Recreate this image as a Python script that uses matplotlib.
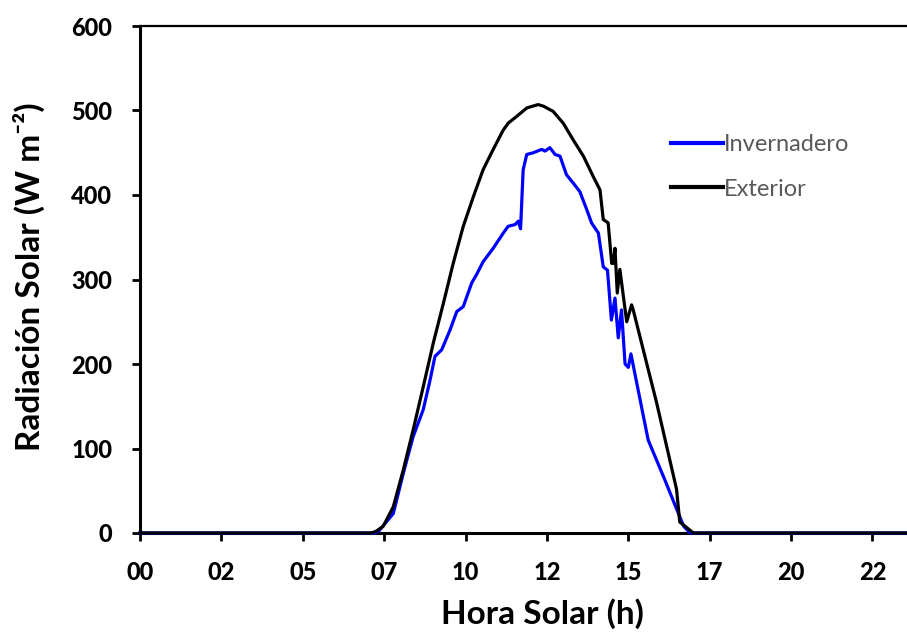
import matplotlib
matplotlib.use('Agg')
import matplotlib.pyplot as plt

plt.rcParams['font.family'] = ['Lato', 'DejaVu Sans']

# Hora solar (h) y radiacion (W m-2)
hora_ext = [0.0, 7.10, 7.25, 7.47, 7.78, 8.09, 8.39, 8.70, 9.01, 9.32, 9.62, 9.93,
            10.24, 10.54, 10.85, 11.16, 11.31, 11.57, 11.88, 12.05, 12.23, 12.40,
            12.59, 12.69, 13.00, 13.31, 13.62, 13.92, 14.13, 14.23, 14.38, 14.49,
            14.54, 14.59, 14.66, 14.74, 14.95, 15.10, 15.15, 15.87, 16.48, 16.58,
            17.00, 23.75]
rad_ext = [0, 0, 2, 8, 31, 75, 122, 173, 225, 272, 319, 363,
           398, 430, 454, 477, 485, 493, 503, 505, 507, 505,
           501, 499, 485, 465, 446, 422, 406, 371, 367, 319,
           319, 337, 284, 312, 250, 270, 264, 154, 52, 13,
           0, 0]

hora_inv = [0.0, 7.20, 7.35, 7.78, 8.09, 8.39, 8.70, 8.91, 9.06, 9.27, 9.52, 9.73,
            9.93, 10.19, 10.34, 10.54, 10.85, 11.16, 11.31, 11.52, 11.62, 11.69,
            11.77, 11.88, 12.08, 12.34, 12.44, 12.59, 12.75, 12.90, 13.10, 13.31,
            13.51, 13.72, 13.87, 14.08, 14.23, 14.36, 14.48, 14.59, 14.69, 14.79,
            14.90, 15.00, 15.08, 15.36, 15.61, 16.12, 16.54, 16.70, 16.90, 23.75]
rad_inv = [0, 0, 3, 23, 71, 114, 146, 181, 209, 217, 240, 262,
           268, 296, 306, 321, 337, 355, 363, 365, 369, 360,
           430, 448, 450, 454, 452, 456, 448, 446, 424, 414,
           404, 383, 367, 355, 315, 311, 252, 278, 231, 264,
           200, 196, 212, 158, 110, 63, 23, 8, 0, 0]

x_ticks = [0, 2.5, 5, 7.5, 10, 12.5, 15, 17.5, 20, 22.5]
x_labels = ['00', '02', '05', '07', '10', '12', '15', '17', '20', '22']
y_ticks = [0, 100, 200, 300, 400, 500, 600]

fig = plt.figure(figsize=(9.07, 6.37), dpi=100)
ax = fig.add_axes([140 / 907, 104 / 637, 767 / 907, 507 / 637])

ax.plot(hora_inv, rad_inv, color='#0000ff', lw=2.3, label='Invernadero', clip_on=False, zorder=3)
ax.plot(hora_ext, rad_ext, color='black', lw=2.3, label='Exterior', clip_on=False, zorder=4)

ax.set_xlim(0, 23.56)
ax.set_ylim(0, 600)
ax.set_xticks(x_ticks)
ax.set_xticklabels(x_labels)
ax.set_yticks(y_ticks)
ax.tick_params(direction='out', length=6, width=2, labelsize=17)
ax.tick_params(axis='x', pad=14)
ax.tick_params(axis='y', pad=14)
for lbl in ax.get_xticklabels() + ax.get_yticklabels():
    lbl.set_fontweight('black')

for s in ['left', 'bottom']:
    ax.spines[s].set_linewidth(2.2)
ax.spines['top'].set_linewidth(1.6)
ax.spines['right'].set_visible(False)

ax.set_xlabel('Hora Solar (h)', fontsize=24, fontweight='bold')
ax.xaxis.set_label_coords((542 - 140) / 767, (533 - 598) / 507)
ax.set_ylabel('Radiación Solar (W m⁻²)', fontsize=24, fontweight='bold')
ax.yaxis.set_label_coords((45 - 140) / 767, 0.505)

leg = ax.legend(loc='upper left', bbox_to_anchor=(671 / 907, 1 - 134 / 637),
                bbox_transform=fig.transFigure, frameon=False, borderpad=0,
                borderaxespad=0, fontsize=17, handlelength=2.2, handletextpad=0.05,
                labelspacing=1.0)
for t in leg.get_texts():
    t.set_color('#595959')
for h in leg.get_lines():
    h.set_linewidth(3)

fig.savefig('out.png', dpi=100)
